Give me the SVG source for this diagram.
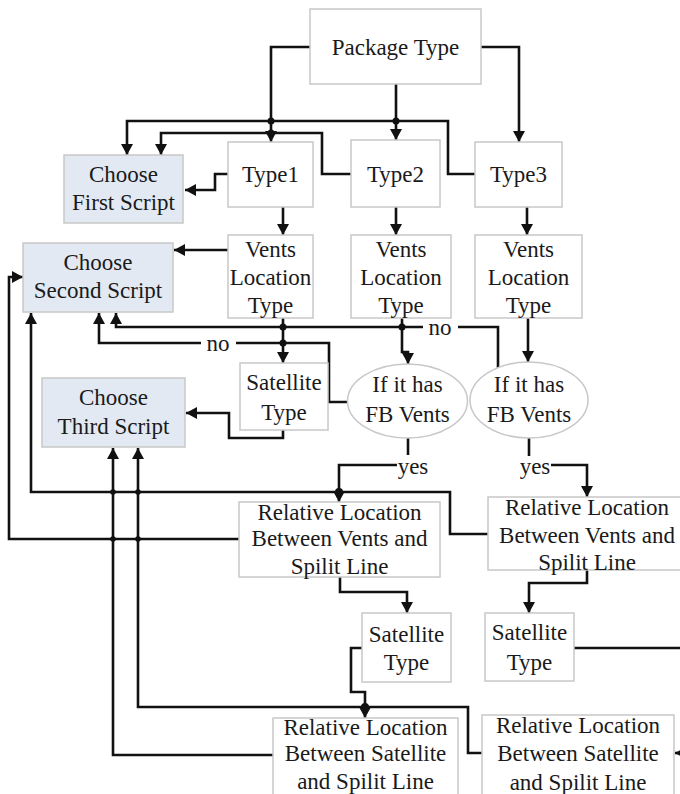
<svg xmlns="http://www.w3.org/2000/svg" width="680" height="794" viewBox="0 0 680 794">
  <defs>
    <marker id="arrow" markerUnits="userSpaceOnUse" markerWidth="12" markerHeight="12" refX="11" refY="6" orient="auto">
      <path d="M0,0 L11,6 L0,12 z" fill="#111"/>
    </marker>
    <style>
      .box { fill: #ffffff; stroke: #c8c8c8; stroke-width: 1.5; }
      .sel { fill: #e2e9f3; stroke: #c8c8c8; stroke-width: 1.5; }
      text { font-family: "Liberation Serif", "Times New Roman", serif; font-size: 23px; fill: #1a1a1a; text-anchor: middle; }
      .wire { fill: none; stroke: #111; stroke-width: 2.6; stroke-linejoin: miter; }
      .arr { marker-end: url(#arrow); }
      .dot { fill: #111; }
    </style>
  </defs>
  <rect width="680" height="794" fill="#ffffff"/>

  <!-- connectors -->
  <g id="connectors">
    <path class="wire arr" d="M310,47 H271 V142"/>
    <path class="wire arr" d="M396,84 V140"/>
    <path class="wire arr" d="M481,47 H519 V142"/>
    <path class="wire arr" d="M475,174 H448 V121 H127 V155"/>
    <path class="wire arr" d="M351,174 H322 V133 H161 V155"/>
    <path class="wire arr" d="M228,174 H215 V190 H185"/>
    <path class="wire arr" d="M283,207 V235"/>
    <path class="wire arr" d="M396,207 V235"/>
    <path class="wire arr" d="M527,207 V235"/>
    <path class="wire arr" d="M228,250 H174"/>
    <path class="wire arr" d="M283,318 V363"/>
    <path class="wire arr" d="M402,318 V352 H408 V364"/>
    <path class="wire arr" d="M528,318 V362"/>
    <!-- "no" branches -->
    <path class="wire" d="M498,368 V327 H458"/>
    <path class="wire arr" d="M423,327 H116 V313"/>
    <path class="wire" d="M347,402 H329 V343 H236"/>
    <path class="wire arr" d="M201,343 H99 V313"/>
    <path class="wire arr" d="M283,430 V438 H229 V413 H186"/>
    <!-- "yes" branches -->
    <path class="wire" d="M408,438 V455"/>
    <path class="wire arr" d="M397,465 H339 V502"/>
    <path class="wire" d="M529,438 V456"/>
    <path class="wire arr" d="M551,465 H587 V497"/>
    <!-- returns to the script boxes -->
    <path class="wire arr" d="M239,539 H9 V277 H23"/>
    <path class="wire arr" d="M488,534 H450 V492 H31 V313"/>
    <path class="wire arr" d="M340,577 V592 H407 V613"/>
    <path class="wire arr" d="M587,570 V583 H529 V613"/>
    <path class="wire" d="M574,648 H682"/>
    <path class="wire arr" d="M362,648 H351 V692 H365 V718"/>
    <path class="wire arr" d="M482,753 H468 V707 H138 V448"/>
    <path class="wire arr" d="M273,755 H113 V448"/>
    <path class="wire arr" d="M690,753 H675"/>
    <!-- junctions -->
    <circle class="dot" cx="271" cy="121" r="3.5"/>
    <circle class="dot" cx="271" cy="133" r="3.5"/>
    <circle class="dot" cx="396" cy="121" r="3.5"/>
    <circle class="dot" cx="283" cy="327" r="3.5"/>
    <circle class="dot" cx="283" cy="343" r="3.5"/>
    <circle class="dot" cx="402" cy="327" r="3.5"/>
    <circle class="dot" cx="339" cy="492" r="4"/>
    <circle class="dot" cx="113" cy="492" r="2.8"/>
    <circle class="dot" cx="138" cy="492" r="2.8"/>
    <circle class="dot" cx="113" cy="539" r="2.8"/>
    <circle class="dot" cx="138" cy="539" r="2.8"/>
    <circle class="dot" cx="365" cy="707" r="4"/>
    <!-- branch labels -->
    <text x="218" y="351">no</text>
    <text x="440" y="335">no</text>
    <text x="413" y="474">yes</text>
    <text x="535" y="474">yes</text>
  </g>

  <g id="package-type">
    <rect class="box" x="310" y="9" width="171" height="75"/>
    <text x="395.5" y="55">Package Type</text>
  </g>
  <g id="type1">
    <rect class="box" x="228" y="142" width="85" height="65"/>
    <text x="270.5" y="182">Type1</text>
  </g>
  <g id="type2">
    <rect class="box" x="351" y="140" width="89" height="67"/>
    <text x="395.5" y="182">Type2</text>
  </g>
  <g id="type3">
    <rect class="box" x="475" y="142" width="87" height="65"/>
    <text x="518.5" y="182">Type3</text>
  </g>
  <g id="choose-first">
    <rect class="sel" x="64" y="155" width="119" height="68"/>
    <text x="123.5" y="182">Choose</text>
    <text x="123.5" y="210">First Script</text>
  </g>
  <g id="vents1">
    <rect class="box" x="228" y="235" width="85" height="83"/>
    <text x="270.5" y="257">Vents</text>
    <text x="270.5" y="285">Location</text>
    <text x="270.5" y="313">Type</text>
  </g>
  <g id="vents2">
    <rect class="box" x="351" y="235" width="100" height="83"/>
    <text x="401" y="257">Vents</text>
    <text x="401" y="285">Location</text>
    <text x="401" y="313">Type</text>
  </g>
  <g id="vents3">
    <rect class="box" x="475" y="235" width="107" height="83"/>
    <text x="528.5" y="257">Vents</text>
    <text x="528.5" y="285">Location</text>
    <text x="528.5" y="313">Type</text>
  </g>
  <g id="choose-second">
    <rect class="sel" x="23" y="243" width="150" height="69"/>
    <text x="98" y="270">Choose</text>
    <text x="98" y="298">Second Script</text>
  </g>
  <g id="satellite1">
    <rect class="box" x="240" y="363" width="88" height="67"/>
    <text x="284" y="390">Satellite</text>
    <text x="284" y="420">Type</text>
  </g>
  <g id="fb-vents1">
    <ellipse class="box" cx="407.5" cy="401" rx="60" ry="37"/>
    <text x="407.5" y="392">If it has</text>
    <text x="407.5" y="422">FB Vents</text>
  </g>
  <g id="fb-vents2">
    <ellipse class="box" cx="529" cy="400" rx="59" ry="38"/>
    <text x="529" y="392">If it has</text>
    <text x="529" y="422">FB Vents</text>
  </g>
  <g id="choose-third">
    <rect class="sel" x="42" y="378" width="143" height="69"/>
    <text x="113.5" y="405">Choose</text>
    <text x="113.5" y="434">Third Script</text>
  </g>
  <g id="rel-vents1">
    <rect class="box" x="239" y="502" width="201" height="75"/>
    <text x="339.5" y="520">Relative Location</text>
    <text x="339.5" y="546">Between Vents and</text>
    <text x="339.5" y="574">Spilit Line</text>
  </g>
  <g id="rel-vents2">
    <rect class="box" x="488" y="497" width="198" height="73"/>
    <text x="587" y="515">Relative Location</text>
    <text x="587" y="543">Between Vents and</text>
    <text x="587" y="570">Spilit Line</text>
  </g>
  <g id="satellite2">
    <rect class="box" x="362" y="613" width="89" height="69"/>
    <text x="406.5" y="642">Satellite</text>
    <text x="406.5" y="670">Type</text>
  </g>
  <g id="satellite3">
    <rect class="box" x="485" y="613" width="89" height="68"/>
    <text x="529.5" y="640">Satellite</text>
    <text x="529.5" y="670">Type</text>
  </g>
  <g id="rel-satellite1">
    <rect class="box" x="273" y="718" width="185" height="80"/>
    <text x="365.5" y="735">Relative Location</text>
    <text x="365.5" y="761">Between Satellite</text>
    <text x="365.5" y="789">and Spilit Line</text>
  </g>
  <g id="rel-satellite2">
    <rect class="box" x="482" y="715" width="192" height="83"/>
    <text x="578" y="733">Relative Location</text>
    <text x="578" y="761">Between Satellite</text>
    <text x="578" y="790">and Spilit Line</text>
  </g>
</svg>
